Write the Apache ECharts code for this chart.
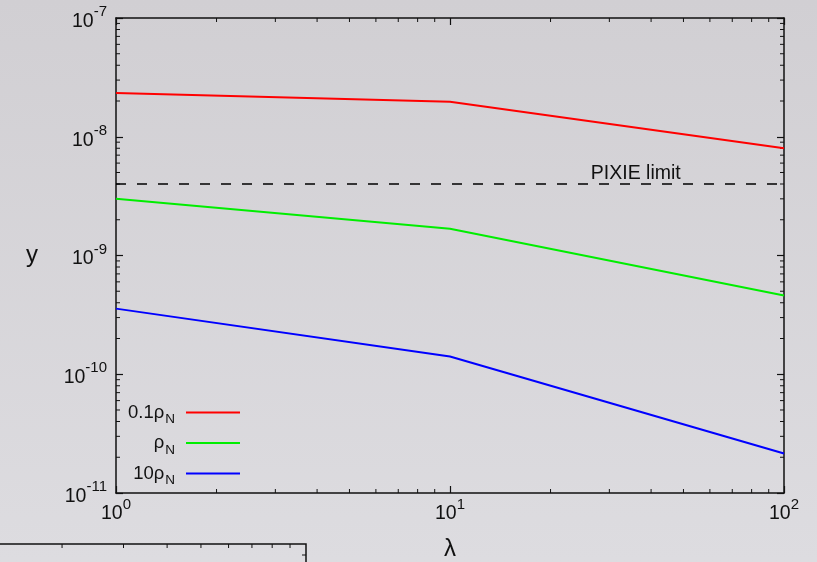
<!DOCTYPE html>
<html>
<head>
<meta charset="utf-8">
<script src="https://cdn.jsdelivr.net/npm/echarts@6/dist/echarts.min.js"></script>
<style>
  html, body { margin: 0; padding: 0; }
  #chart { width: 817px; height: 562px; }
</style>
</head>
<body>
<div id="chart"></div>
<script>
// data (lambda vs y, log-log)
var lambda = [1, 10, 100];
var yLow = [2.34e-8, 1.97e-8, 8.0e-9];     // 0.1 rho_N
var yMid = [3.0e-9, 1.68e-9, 4.6e-10];     // rho_N
var yHigh = [3.57e-10, 1.41e-10, 2.15e-11]; // 10 rho_N
var pixieLimit = 4e-9;
var seriesNames = ['0.1ρN', 'ρN', '10ρN'];
var legendMain = ['0.1ρ', 'ρ', '10ρ'];
var colors = ['#ff0000', '#00ee00', '#0000ff'];

// minor tick positions (2..9 in each decade)
var minorMult = [2, 3, 4, 5, 6, 7, 8, 9];
var xDecades = [1, 10];
var yDecades = [1e-11, 1e-10, 1e-9, 1e-8];

var FONT = '"Liberation Sans", Arial, Helvetica, sans-serif';

var dom = document.getElementById('chart');
var myChart = echarts.init(dom);

function pairs(ys) {
  return lambda.map(function (l, i) { return [l, ys[i]]; });
}

var minorData = [];
xDecades.forEach(function (d) {
  minorMult.forEach(function (m) { minorData.push(['x', m * d]); });
});
yDecades.forEach(function (d) {
  minorMult.forEach(function (m) { minorData.push(['y', m * d]); });
});

function powLabel(v) {
  var e = Math.round(Math.log10(v));
  return '{b|10}{s|' + e + '}';
}

var labelRich = {
  b: { fontSize: 19.5, fontFamily: FONT, color: '#111', verticalAlign: 'bottom', lineHeight: 27 },
  s: { fontSize: 15, fontFamily: FONT, color: '#111', verticalAlign: 'top', lineHeight: 14 }
};

var tickStyle = { show: true, inside: true, length: 7, lineStyle: { color: '#111', width: 1.2 } };
var lineStyleAxis = { show: true, lineStyle: { color: '#111', width: 1.5 } };

// the edge of a neighbouring figure that shows at the bottom left
var edgeGraphic = [{
  type: 'polyline', silent: true,
  shape: { points: [[-2, 544], [306, 544], [306, 570]] },
  style: { stroke: '#111', lineWidth: 1.5, fill: null }
}, {
  type: 'line', silent: true,
  shape: { x1: 306, y1: 555, x2: 302, y2: 555 },
  style: { stroke: '#111', lineWidth: 1 }
}];
minorMult.forEach(function (m) {
  var x = -43 + 349 * Math.log10(m);
  edgeGraphic.push({
    type: 'line', silent: true,
    shape: { x1: x, y1: 544, x2: x, y2: 548 },
    style: { stroke: '#111', lineWidth: 1 }
  });
});

var option = {
  backgroundColor: {
    type: 'linear', x: 0, y: 0, x2: 0, y2: 1,
    colorStops: [{ offset: 0, color: '#d1cfd3' }, { offset: 1, color: '#dddce0' }]
  },
  animation: false,
  grid: { left: 116, right: 33, top: 18, bottom: 69, outerBoundsMode: 'none', containLabel: false },
  legend: {
    data: seriesNames,
    orient: 'vertical',
    align: 'right',
    right: 577,
    top: 403,
    padding: 0,
    itemGap: 7,
    itemWidth: 54,
    itemHeight: 2,
    icon: 'rect',
    formatter: function (name) {
      var i = seriesNames.indexOf(name);
      return '{m|' + legendMain[i] + '}{n|N}{g|}';
    },
    textStyle: {
      rich: {
        m: { fontSize: 18.5, fontFamily: FONT, color: '#111', lineHeight: 28 },
        n: { fontSize: 13.5, fontFamily: FONT, color: '#111', lineHeight: 13, verticalAlign: 'bottom', padding: [0, 0, 0, 1] },
        g: { width: 6 }
      }
    }
  },
  xAxis: [
    {
      type: 'log', logBase: 10, min: 1, max: 100, position: 'bottom',
      name: 'λ', nameLocation: 'middle', nameGap: 44,
      nameTextStyle: { fontSize: 24, fontFamily: FONT, color: '#111' },
      axisLine: lineStyleAxis, axisTick: tickStyle, splitLine: { show: false },
      axisLabel: { formatter: powLabel, rich: labelRich, margin: 4 }
    },
    {
      type: 'log', logBase: 10, min: 1, max: 100, position: 'top',
      axisLine: lineStyleAxis, axisTick: tickStyle, splitLine: { show: false },
      axisLabel: { show: false }
    }
  ],
  yAxis: [
    {
      type: 'log', logBase: 10, min: 1e-11, max: 1e-7, position: 'left',
      name: 'y', nameLocation: 'middle', nameGap: 78, nameRotate: 0,
      nameTextStyle: { fontSize: 24, fontFamily: FONT, color: '#111' },
      axisLine: lineStyleAxis, axisTick: tickStyle, splitLine: { show: false },
      axisLabel: { formatter: powLabel, rich: labelRich, margin: 9 }
    },
    {
      type: 'log', logBase: 10, min: 1e-11, max: 1e-7, position: 'right',
      axisLine: lineStyleAxis, axisTick: tickStyle, splitLine: { show: false },
      axisLabel: { show: false }
    }
  ],
  series: [
    {
      name: seriesNames[0], type: 'line', data: pairs(yLow), symbol: 'none',
      lineStyle: { color: colors[0], width: 2 }, itemStyle: { color: colors[0] }
    },
    {
      name: seriesNames[1], type: 'line', data: pairs(yMid), symbol: 'none',
      lineStyle: { color: colors[1], width: 2 }, itemStyle: { color: colors[1] }
    },
    {
      name: seriesNames[2], type: 'line', data: pairs(yHigh), symbol: 'none',
      lineStyle: { color: colors[2], width: 2 }, itemStyle: { color: colors[2] }
    },
    {
      name: 'PIXIE', type: 'line', symbol: 'none',
      data: [[lambda[0], pixieLimit], [lambda[lambda.length - 1], pixieLimit]],
      lineStyle: { color: '#000', width: 1.5, type: [10, 11] },
      markPoint: {
        symbol: 'circle', symbolSize: 0,
        label: { show: true, position: 'top', distance: 0, formatter: 'PIXIE limit',
          fontSize: 19.5, fontFamily: FONT, color: '#111' },
        data: [{ coord: [36, pixieLimit] }]
      }
    },
    {
      // minor log ticks on all four sides
      name: 'minor', type: 'custom', silent: true,
      data: minorData,
      renderItem: function (params, api) {
        var style = { stroke: '#111', lineWidth: 1 };
        var len = 4;
        var raw = minorData[params.dataIndex];
        if (raw[0] === 'x') {
          var b = api.coord([raw[1], 1e-11]);
          var t = api.coord([raw[1], 1e-7]);
          return { type: 'group', children: [
            { type: 'line', shape: { x1: b[0], y1: b[1], x2: b[0], y2: b[1] - len }, style: style },
            { type: 'line', shape: { x1: t[0], y1: t[1], x2: t[0], y2: t[1] + len }, style: style }
          ] };
        }
        var l = api.coord([1, raw[1]]);
        var r = api.coord([100, raw[1]]);
        return { type: 'group', children: [
          { type: 'line', shape: { x1: l[0], y1: l[1], x2: l[0] + len, y2: l[1] }, style: style },
          { type: 'line', shape: { x1: r[0], y1: r[1], x2: r[0] - len, y2: r[1] }, style: style }
        ] };
      },
      encode: { x: 1, y: 1 }
    }
  ],
  graphic: edgeGraphic
};

myChart.setOption(option);
</script>
</body>
</html>
